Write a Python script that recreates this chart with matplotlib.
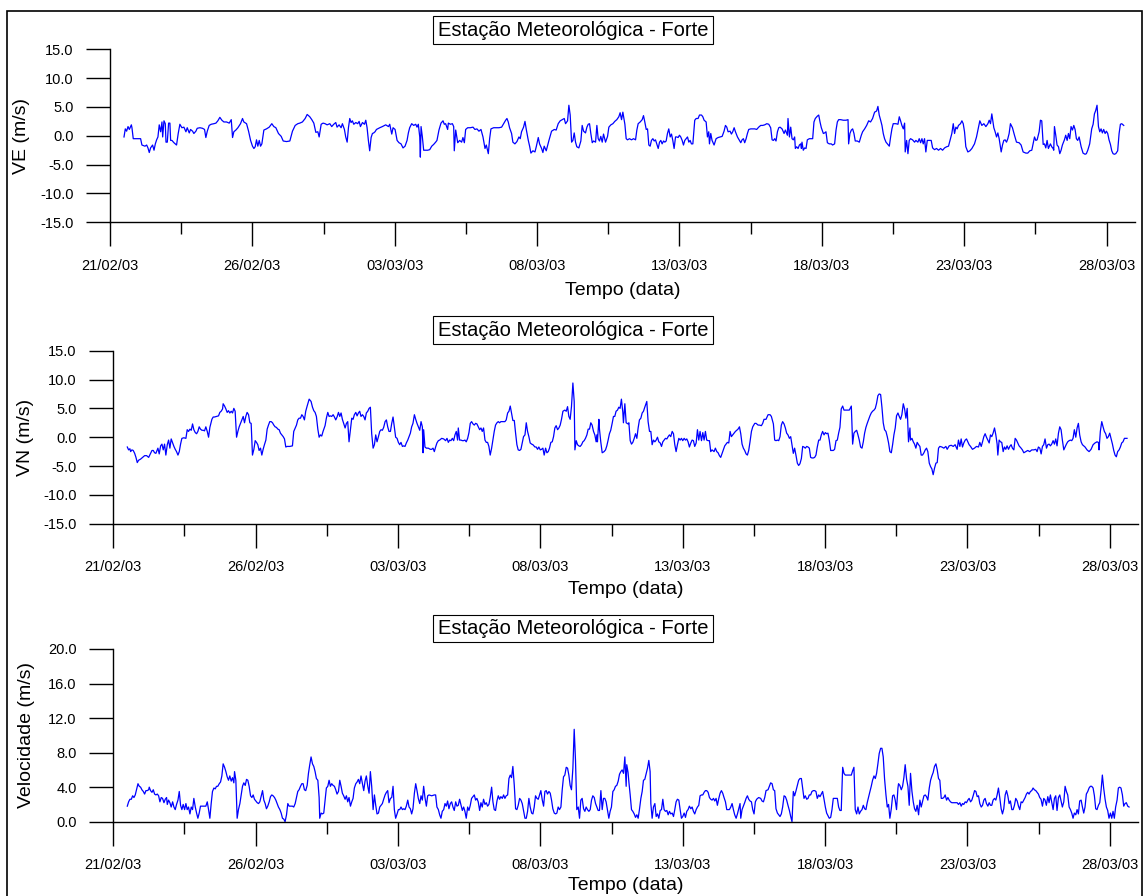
import numpy as np
import pandas as pd
import matplotlib
matplotlib.use("Agg")
import matplotlib.pyplot as plt
import matplotlib.dates as mdates
from matplotlib.ticker import FixedLocator, FormatStrFormatter
from matplotlib.patches import Rectangle

plt.rcParams['font.family'] = ['Liberation Sans', 'DejaVu Sans']

START = pd.Timestamp('2003-02-21')
END = pd.Timestamp('2003-03-29')
TITLE = "Estação Meteorológica - Forte"
XLABEL = "Tempo (data)"

# Hours since 21/02/03 00:00 and the wind components (m/s)
ve_hours = [
    11.8, 12.9, 14.0, 15.2, 16.3, 18.0, 18.5, 19.6, 25.8, 26.9,
    29.5, 30.9, 32.0, 33.1, 34.2, 35.9, 37.1, 38.2, 39.3, 40.4,
    41.5, 42.7, 43.8, 44.4, 45.5, 46.6, 47.2, 48.3, 49.4, 50.5,
    51.1, 52.2, 53.9, 56.1, 57.5, 58.9, 60.6, 62.3, 64.0, 65.1,
    66.8, 67.9, 69.6, 70.7, 72.4, 73.5, 75.8, 78.0, 79.7, 80.8,
    82.0, 83.6, 85.3, 87.6, 89.3, 90.9, 92.6, 94.3, 96.0, 98.2,
    100.5, 102.2, 103.3, 104.4, 106.1, 107.8, 110.0, 111.7, 112.8, 115.1,
    116.8, 118.5, 120.1, 121.3, 122.4, 123.5, 124.6, 125.8, 126.9, 128.0,
    129.7, 131.9, 134.2, 136.4, 138.1, 139.8, 142.0, 144.3, 146.0, 148.8,
    151.6, 153.8, 156.1, 158.3, 160.0, 162.2, 164.5, 166.2, 168.4, 170.1,
    171.8, 173.5, 175.2, 176.3, 178.0, 179.6, 181.3, 183.0, 185.3, 186.9,
    188.6, 190.3, 191.4, 193.1, 194.8, 195.9, 197.6, 198.7, 199.9, 201.0,
    202.1, 203.2, 204.3, 205.5, 207.2, 208.8, 210.0, 211.1, 212.8, 214.5,
    215.6, 216.7, 217.8, 218.9, 220.1, 221.2, 222.3, 223.4, 224.6, 227.4,
    229.6, 232.4, 234.7, 235.8, 237.5, 238.6, 240.3, 242.0, 243.6, 245.3,
    247.0, 248.7, 250.4, 251.5, 252.6, 254.3, 256.0, 257.7, 258.8, 259.9,
    261.1, 261.6, 262.2, 263.3, 264.4, 266.1, 267.8, 269.5, 271.2, 272.8,
    274.5, 275.6, 277.3, 279.0, 280.7, 281.8, 282.9, 284.6, 285.2, 286.9,
    288.6, 289.7, 290.2, 291.4, 293.1, 294.7, 296.4, 297.5, 298.7, 299.8,
    301.5, 303.7, 306.0, 307.6, 309.3, 311.0, 312.7, 314.4, 316.1, 317.2,
    318.9, 320.0, 321.1, 323.4, 325.6, 327.9, 330.1, 331.8, 333.5, 334.6,
    335.7, 336.8, 338.5, 339.6, 341.3, 343.0, 344.7, 345.8, 346.9, 348.6,
    349.8, 350.9, 352.6, 353.7, 354.8, 356.5, 358.2, 359.3, 361.0, 362.1,
    363.8, 364.9, 366.0, 367.7, 370.0, 372.2, 374.5, 376.1, 377.8, 379.5,
    381.2, 382.9, 384.0, 385.7, 386.8, 387.9, 389.1, 390.2, 391.3, 392.4,
    393.5, 395.2, 396.9, 398.0, 399.2, 400.8, 402.0, 403.1, 404.2, 405.3,
    406.5, 407.6, 409.3, 410.4, 411.5, 412.6, 413.7, 414.9, 416.0, 417.7,
    419.4, 420.5, 422.2, 423.9, 425.5, 427.2, 428.9, 430.0, 431.2, 432.3,
    434.0, 435.1,
    436.2, 437.9, 439.6, 441.3, 443.0, 444.1, 445.2, 446.9, 448.6, 449.7,
    450.8, 452.0, 453.1, 454.2, 455.3, 456.4, 457.6, 458.7, 459.8, 460.9,
    462.1, 463.2, 464.3, 465.4, 466.6, 467.7, 468.8, 469.9, 471.0, 472.2,
    473.3, 474.4, 475.5, 476.7, 477.8, 478.9, 480.0, 481.1, 482.3, 483.4,
    484.5, 485.6, 486.8, 487.9, 489.0, 490.1, 491.3, 492.9, 494.1, 495.7,
    496.9, 498.6, 499.7, 500.8, 502.5, 503.6, 504.7, 505.3, 506.4, 507.5,
    509.2, 510.9, 512.6, 514.3, 516.0, 517.6, 518.8, 519.9, 521.0, 522.7,
    523.8, 524.9, 526.1, 527.2, 528.9, 530.6, 531.7, 532.8, 533.9, 535.0,
    536.2, 537.3, 538.4, 540.1, 541.8, 543.5, 545.1, 546.8, 548.5, 550.2,
    551.9, 553.6, 555.3, 556.9, 558.1, 559.2, 560.3, 561.4, 562.6, 563.7,
    564.8, 566.5, 568.2, 569.3, 571.0, 571.5, 572.7, 573.8, 574.9, 576.0,
    577.1, 577.7, 578.8, 580.0, 581.1, 582.2, 582.8, 583.3, 584.4, 585.6,
    586.7, 587.8, 589.5, 591.2, 592.3, 593.4, 594.5, 596.2, 597.4, 598.5,
    599.6, 601.3, 602.4, 603.5, 604.7, 606.3, 608.0, 609.1, 610.8, 612.0,
    613.1, 614.2, 615.9, 618.1, 620.4, 622.1, 622.6, 623.7, 624.9, 626.0,
    627.1, 628.2, 629.9, 631.6, 633.3, 634.4, 636.1, 637.8, 639.5, 641.1,
    642.8, 644.5, 646.2, 647.3, 648.4, 649.6, 650.7, 651.8, 652.9, 654.1,
    655.7, 656.9, 658.0, 659.1, 660.2, 662.5, 664.2, 665.3, 666.4, 667.5,
    668.7, 669.8, 670.3, 671.5, 672.6, 673.7, 674.8, 676.5, 678.2, 679.3,
    681.0, 682.1, 683.3, 684.4, 685.5, 686.6, 687.7, 688.9, 690.6, 692.2,
    693.4, 695.0, 696.7, 698.4, 700.1, 701.8, 703.5, 705.2, 706.8, 708.5,
    709.6, 710.8, 711.9, 713.0, 714.1, 715.2, 716.9, 718.1, 719.2, 720.3,
    721.4, 723.1, 724.8, 726.5, 728.7, 730.4, 732.1, 733.2, 734.9, 736.6,
    738.3, 740.0, 741.1, 742.2, 743.3, 745.0, 746.1, 747.3, 748.4, 749.5,
    751.2, 752.3, 753.4, 754.5, 755.7, 756.8, 757.9, 759.0, 760.7, 762.4,
    764.1, 766.3, 768.0, 769.7, 772.0, 773.6, 775.3, 777.0, 778.1, 779.3,
    780.4, 781.5, 783.2, 784.3, 785.4, 786.6, 787.7, 788.8, 789.9, 791.0,
    792.7, 793.8, 795.0, 795.5, 796.1, 797.2, 798.3, 799.5, 800.6, 801.7,
    802.8, 804.5, 805.6, 806.8, 807.9, 809.0, 810.1, 811.3, 812.4, 813.5,
    814.6, 815.7, 816.9, 818.6, 820.2, 821.9, 823.0, 824.2, 825.8, 827.5,
    828.7, 829.8, 830.9, 832.0, 833.2, 834.3, 835.4, 836.5, 837.6, 838.8,
    839.9, 841.0, 842.1, 843.3, 844.4, 845.5, 846.6, 847.8, 849.4, 850.6,
    851.7, 852.8, 854.5,
]
ve_vals = [
    -0.2, 1.2, 0.8, 1.6, 1.1, 1.9, 1.4, -0.5, -0.5, -1.6,
    -1.8, -1.6, -2.1, -2.9, -2.1, -1.6, -2.5, -1.4, -0.7, -0.2,
    1.9, 0.7, 2.4, -0.2, 2.6, 2.1, -1.1, -1.1, 2.2, 2.2,
    -0.8, -0.8, -1.2, -1.6, 0.4, 2.0, 1.4, 1.5, 0.7, 1.4,
    0.5, 1.1, 0.8, 0.4, 0.8, 1.3, 1.4, 1.3, 1.1, -0.3,
    0.8, 1.8, 2.0, 2.1, 2.2, 2.6, 3.2, 2.7, 2.4, 2.4,
    2.2, 2.8, -0.3, 0.7, 1.0, 1.4, 2.1, 3.0, 2.4, 2.1,
    0.8, -0.8, -1.8, -2.2, -1.9, -0.7, -1.8, -0.8, -1.8, -1.4,
    1.0, 1.2, 1.5, 2.1, 1.6, 1.4, 0.4, -0.1, -0.9, -1.0,
    -0.9, 0.8, 1.8, 2.1, 2.2, 2.4, 3.0, 3.7, 3.3, 2.8,
    2.2, 0.6, 0.7, -0.2, 2.0, 2.2, 2.1, 1.9, 2.1, 1.6,
    2.0, 2.3, 1.5, 1.9, 1.4, 2.1, 1.1, -0.2, -1.1, 1.4,
    3.0, 2.3, 2.6, 2.0, 2.3, 2.1, 2.5, 1.6, 2.3, 2.0,
    2.7, 1.4, -0.8, -2.6, -0.3, 0.4, 0.5, 0.7, 1.1, 1.4,
    1.6, 1.9, 1.6, 2.0, 0.3, 1.4, 1.1, -0.8, -1.2, -1.4,
    -2.1, -1.8, -0.8, 0.5, 1.4, 2.1, 1.8, 2.0, 1.5, 2.0,
    -0.2, -3.7, 1.6, -0.2, -2.5, -2.5, -2.5, -2.4, -1.8, -1.5,
    -1.1, -0.8, 1.0, 2.2, 2.6, 2.0, 2.1, 1.1, 2.2, 2.0,
    2.1, 1.6, -2.6, 1.0, -1.2, -0.8, -1.1, -0.3, -1.2, 1.1,
    1.4, 1.4, 1.5, 1.1, 1.2, 0.8, 1.1, -0.2, -2.2, -1.6,
    -3.1, -0.5, 1.2, 1.4, 1.4, 1.4, 1.5, 2.1, 2.7, 3.0,
    2.4, 1.4, 0.4, -1.1, -1.4, -1.0, -0.2, -0.5, 0.7, 1.5,
    2.5, 1.1, -0.8, -1.8, -3.0, -2.6, -2.8, -1.9, -0.3, -1.4,
    -2.2, -2.9, -1.8, -2.6, -0.8, 0.8, 1.1, 1.0, 2.1, 2.6,
    2.8, 3.0, 2.1, 2.6, 5.3, 3.6, -1.1, -0.8, 0.5, -1.1,
    -1.9, -2.1, -0.9, 1.8, 0.8, 0.5, 1.5, 2.0, 2.1, 0.4,
    -1.2, -0.9, -1.1, 1.8, -0.5, -0.9, -0.1, -1.1, 0.3, -1.1,
    -0.1, 1.5, 1.9, 2.1, 2.5, 2.8, 3.3, 4.0, 2.8, 4.1,
    2.0, -0.5,
    -0.7, -0.5, -0.7, -0.5, -0.7, 1.0, 2.1, 2.4, 2.8, 3.5,
    2.4, 1.1, 1.2, -1.6, -1.8, -0.8, -0.5, -0.9, -0.7, -1.4,
    -2.2, -1.1, -0.8, -1.4, -0.9, -1.1, -0.9, 0.4, 1.2, -0.2,
    0.3, -0.8, -2.2, -0.2, -0.2, -0.3, 0.1, -0.2, -0.8, -1.6,
    -0.8, -0.5, -0.2, -1.1, -0.8, -1.4, -1.4, 2.7, 3.0, 3.0,
    3.6, 3.6, 3.3, 2.7, 2.4, -0.2, 0.7, -1.4, 0.4, -0.8,
    -1.6, -0.5, -0.3, -0.2, -0.1, 0.8, 1.8, 1.5, 0.7, 0.8,
    0.3, 0.7, 1.4, 0.7, -0.2, -0.8, -1.2, -0.7, -0.5, -1.2,
    -0.5, 0.4, 1.1, 1.2, 1.2, 1.2, 1.1, 1.5, 1.8, 1.8,
    1.9, 2.1, 2.0, 1.4, -0.7, -0.8, -0.5, -0.9, 0.7, 1.4,
    1.5, 1.2, 0.4, 1.0, 0.1, 3.0, -0.2, 1.5, -0.5, -0.7,
    -0.2, -2.2, -1.9, -2.2, -1.6, -1.4, -2.2, -1.1, -2.5, -2.1,
    -2.2, -0.7, -0.5, -0.5, -0.5, 2.4, 3.0, 3.4, 3.6, 2.4,
    1.4, 0.4, 0.5, 0.7, -1.2, -1.4, -1.4, -1.6, -1.4, 1.0,
    2.4, 2.8, 2.8, 2.7, 2.7, 2.8, -1.4, 0.4, 1.0, 1.2,
    0.4, -0.9, -0.9, -1.1, 0.1, 0.7, 1.2, 1.8, 2.6, 2.4,
    3.0, 4.1, 4.3, 5.1, 3.6, 2.7, 1.8, 0.4, -0.5, -1.1,
    -1.5, -1.8, -0.2, 1.2, 2.1, 2.1, 2.0, 3.3, 2.6, 1.8,
    1.2, 2.2, -2.8, -0.8, -3.1, -0.8, -0.5, -0.7, -1.1, -0.8,
    -1.1, -0.5, -1.2, -0.5, -1.4, -0.5, -2.8, -0.8, -0.8, -0.8,
    -2.1, -2.4, -2.2, -2.5, -2.2, -2.5, -2.1, -1.9, -1.8, -0.5,
    0.4, 2.1, 0.4, 1.5, 1.2, 1.8, 2.1, 2.6, 2.1, 0.7,
    -1.9, -2.8, -2.6, -2.2, -1.4, -0.2, 1.5, 2.6, 1.8, 2.1,
    1.6, 2.1, 2.7, 2.1, 3.8, 1.4, 0.7, -0.2, 0.5, -0.5,
    -2.8, -1.6, -0.8, -0.7, -1.1, -0.5, 0.4, 2.1, 1.4, 0.1,
    -1.1, -1.2, -1.6, -2.8, -3.0, -3.0, -2.6, -2.5, -1.4, -0.2,
    -0.8, -0.7, 0.7, 2.7, 2.6, -1.5, -1.4, -2.1, -0.8, -2.2,
    -1.4, -1.9, -2.2, -2.5, 1.6, 0.1, -1.6, -1.9, -3.1, -2.5,
    -1.6, -0.7, 0.1, -0.8, 0.4, -0.5, 1.6, 1.0, 1.8, 1.1,
    -0.5, -0.8, -0.2, -1.9, -3.0, -3.2, -3.1, -2.5, -1.4, 1.2,
    2.0, 3.8, 4.4, 5.3, 1.6, 0.7, 1.2, 0.5, 1.1, 0.4,
    0.8, 0.4, -0.7, -1.5, -2.6, -3.1, -3.2, -3.1, -2.6, 0.4,
    2.0, 2.1, 1.8,
]

vn_hours = [
    11.8, 12.9, 14.0, 14.6, 15.7, 16.8, 18.0, 19.1, 20.2, 21.3,
    23.0, 24.7, 26.4, 28.1, 29.8, 31.4, 32.6, 33.7, 34.8, 35.9,
    37.6, 38.7, 39.9, 41.0, 42.1, 43.2, 44.3, 45.5, 46.6, 47.7,
    48.8, 50.0, 51.1, 52.2, 53.3, 54.5, 55.6, 56.7, 57.8, 59.5,
    61.2, 62.3, 63.4, 64.6, 65.7, 66.8, 67.9, 69.1, 70.2, 71.3,
    72.4, 73.5, 74.7, 75.8, 76.9, 78.0, 79.2, 80.3, 81.4, 83.1,
    84.2, 85.3, 87.0, 88.7, 89.8, 90.9, 92.1, 92.6, 93.8, 94.9,
    96.0, 97.1, 98.2, 99.4, 100.5, 101.6, 102.7, 103.9, 105.0, 106.1,
    107.2, 108.4, 109.5, 110.6, 111.7, 112.8, 114.0, 115.1, 116.2, 117.3,
    118.5, 119.6, 120.7, 121.8, 122.9, 124.1, 125.2, 126.3, 127.4, 128.6,
    129.7, 130.8, 131.9, 133.1, 134.2, 135.3, 136.4, 137.5, 138.7, 139.8,
    140.9, 142.0, 143.2, 144.3, 145.4, 146.5, 148.8, 151.0, 152.1, 153.3,
    154.4, 155.5, 156.6, 157.8, 158.9, 160.0, 161.1, 162.2, 163.4, 165.1,
    166.7, 167.9, 169.0, 170.1, 171.2, 172.4, 173.5, 174.6, 175.7, 176.8,
    178.5, 179.6, 180.8, 181.9, 183.0, 184.1, 185.3, 186.4, 187.5, 188.6,
    189.8, 190.9, 192.0, 193.1, 194.2, 195.4, 196.5, 197.6, 198.7, 199.9,
    201.0, 202.1, 203.2, 204.4, 205.5, 206.6, 207.7, 208.8, 210.0, 211.1,
    212.2, 213.3, 214.5, 215.6, 216.7, 217.8, 219.0, 220.1, 221.2, 222.3,
    223.5, 224.6, 225.7, 226.8, 227.9, 229.1, 230.2, 231.3, 232.4, 233.6,
    234.7, 235.8, 236.9, 238.0, 239.2, 240.3, 241.4, 242.5, 243.7, 244.8,
    245.9, 247.0, 248.2, 249.3, 250.4, 251.5, 252.6, 253.8, 254.9, 256.0,
    257.1, 258.3, 259.4, 260.5, 261.1, 261.6, 262.7, 263.9, 265.5, 267.2,
    268.4, 269.5, 270.6, 271.7, 272.8, 274.0, 275.1, 276.8, 278.5, 280.1,
    281.3, 282.4, 283.5, 284.6, 285.8, 286.9, 288.0, 289.1, 290.2, 290.8,
    291.9, 293.1, 294.2, 295.3, 296.4, 297.5, 298.7, 299.8, 300.9, 302.0,
    303.2, 304.3, 305.4, 306.5, 307.6, 308.8, 309.9, 311.0, 312.1, 313.3,
    314.4, 315.5, 316.6, 317.7, 318.9, 320.0, 321.1, 322.2, 323.4, 324.5,
    325.6, 326.7, 328.4, 330.1, 331.2, 332.4, 333.5, 334.6, 335.7, 336.8,
    338.0, 339.1, 340.2, 341.3, 342.5, 343.6, 344.7, 345.8, 347.0, 348.1,
    349.2, 350.3, 351.4, 352.6, 353.7, 355.4, 356.5, 357.6, 358.7, 359.9,
    361.0, 362.1, 363.2, 364.4, 365.5, 366.6, 367.7, 368.8, 370.0, 371.1,
    372.2, 373.3, 374.5, 375.6, 376.7, 377.8, 379.0, 380.6, 381.8, 382.9,
    384.0, 385.1, 386.2, 387.4, 388.5, 389.1, 390.2, 391.3, 392.4, 393.5,
    394.7, 395.8, 396.9, 398.0, 399.2, 400.3, 401.4, 402.5, 403.6, 404.8,
    405.9, 407.0, 407.6, 408.1, 409.3, 409.8, 410.9, 412.1, 413.7, 414.9,
    416.0, 417.1, 418.2, 419.3, 420.5, 421.6, 422.7, 423.8, 425.0, 426.1,
    427.2, 428.3, 429.5, 430.0, 431.2, 432.3, 433.9,
    434.6, 435.7, 436.8, 437.9, 439.1, 440.2, 441.3, 442.4, 443.5, 444.7,
    445.8, 446.9, 448.0, 449.7, 450.8, 452.0, 453.1, 454.2, 455.3, 456.5,
    457.6, 458.7, 459.8, 461.0, 462.1, 463.2, 464.3, 465.4, 466.6, 467.7,
    468.8, 469.9, 471.1, 472.2, 473.3, 474.4, 475.5, 476.7, 477.8, 478.9,
    480.0, 481.2, 482.3, 483.4, 484.5, 485.6, 486.8, 487.9, 489.0, 490.1,
    491.3, 492.4, 493.5, 494.6, 495.8, 496.9, 498.0, 499.1, 500.2, 501.4,
    502.5, 503.6, 504.7, 506.4, 507.5, 508.7, 509.8, 510.9, 512.0, 513.2,
    514.3, 515.4, 516.5, 517.6, 518.8, 519.9, 521.0, 522.1, 523.3, 524.4,
    525.5, 526.6, 527.8, 528.9, 530.0, 531.1, 532.2, 533.4, 534.5, 535.6,
    536.7, 537.9, 539.0, 540.7, 541.8, 543.5, 544.6, 546.3, 547.4, 548.5,
    550.2, 551.9, 553.6, 554.7, 556.4, 557.5, 558.6, 559.8, 560.9, 562.0,
    563.1, 564.2, 565.4, 566.5, 567.6, 568.7, 569.9, 571.0, 572.1, 573.2,
    574.3, 575.5, 576.6, 577.7, 578.8, 580.0, 581.1, 582.2, 583.3, 584.5,
    585.6, 586.7, 587.8, 588.9, 590.1, 591.2, 592.3, 593.4, 594.6, 595.7,
    596.8, 597.9, 599.1, 600.2, 601.3, 602.4, 603.5, 604.7, 605.8, 606.9,
    608.0, 609.2, 610.3, 611.4, 612.5, 613.6, 614.8, 615.9, 617.0, 618.7,
    620.4, 622.1, 623.2, 624.3, 625.4, 626.6, 627.7, 628.8, 629.9, 631.1,
    632.2, 633.3, 634.4, 635.5, 636.7, 637.8, 638.9, 640.0, 641.2, 642.3,
    643.4, 644.5, 645.6, 646.8, 647.9, 649.0, 650.1, 651.3, 652.4, 653.5,
    654.6, 655.8, 656.9, 658.0, 659.1, 660.2, 661.4, 662.5, 663.6, 664.7,
    665.9, 667.0, 668.1, 669.2, 670.3, 671.5, 672.0, 673.2, 674.3, 675.4,
    676.5, 677.6, 678.8, 679.9, 681.0, 682.1, 683.3, 684.4, 685.5, 686.6,
    687.8, 688.9, 690.0, 691.1, 692.2, 693.4, 694.5, 695.6, 696.7, 698.4,
    700.1, 701.8, 702.9, 704.6, 706.3, 708.0, 709.6, 711.3, 712.4, 713.6,
    714.7, 715.8, 716.9, 718.1, 719.2, 720.3, 721.4, 722.6, 724.2, 725.9,
    727.6, 729.3, 730.4, 731.6, 732.7, 733.8, 734.9, 736.0, 737.2, 738.3,
    739.4, 740.5, 741.6, 742.8, 743.9, 745.0, 745.6, 746.7, 747.8, 748.9,
    750.1, 751.2, 752.3, 753.4, 754.6, 755.7, 756.8, 757.9, 759.1, 760.2,
    761.3, 762.4, 763.5, 765.2, 766.3, 767.5, 769.2, 770.8, 772.5, 774.2,
    775.9, 777.6, 778.7, 779.8, 781.0, 782.1, 783.2, 784.3, 785.4, 786.6,
    787.7, 788.8, 789.9, 791.0, 792.2, 793.3, 794.4, 795.5, 796.7, 797.8,
    798.9, 800.0, 801.2, 802.3, 803.4, 804.5, 805.7, 806.8, 807.9, 809.0,
    810.1, 811.3, 812.4, 813.5, 814.6, 815.8, 816.9, 818.0, 819.1, 820.8,
    822.5, 824.2, 825.9, 827.5, 829.2, 830.4, 830.9, 832.0, 833.2, 834.3,
    835.4, 836.5, 837.6, 838.8, 839.9, 841.0, 842.2, 843.3, 844.4, 845.5,
    846.6, 847.8, 848.9, 850.0, 851.1, 852.3, 853.4, 854.5,
]
vn_vals = [
    -1.7, -2.2, -2.0, -2.5, -2.2, -2.3, -2.8, -3.5, -4.4, -4.0,
    -3.8, -3.5, -3.2, -3.2, -3.5, -2.8, -2.3, -2.3, -2.7, -2.8,
    -1.9, -2.9, -1.5, -1.2, -2.2, -1.2, -3.1, -1.3, -0.5, -1.9,
    -0.3, -1.0, -1.6, -2.1, -2.5, -3.1, -2.5, -1.2, -0.2, -0.1,
    -0.2, 1.3, 1.0, 1.4, 1.2, 2.3, 1.3, 0.8, 0.6, 1.0,
    1.8, 1.4, 1.2, 1.2, 1.1, 1.8, 1.0, 0.0, 1.7, 3.1,
    3.5, 3.5, 3.6, 3.7, 4.3, 4.5, 4.9, 5.8, 5.4, 4.9,
    4.3, 4.6, 4.2, 4.5, 4.2, 5.0, 4.5, 0.0, 1.0, 1.8,
    2.4, 3.1, 3.6, 2.5, 3.6, 4.3, 3.9, 2.5, 2.4, -3.1,
    -2.1, -0.6, -0.9, -1.3, -2.3, -1.9, -3.1, -2.1, -1.3, -0.5,
    1.4, 2.1, 2.7, 2.7, 2.5, 2.1, 1.8, 1.7, 1.4, 1.3,
    0.7, 0.4, 0.1, -0.3, -1.7, -1.6, -1.6, -1.5, 1.0, 1.6,
    2.1, 3.0, 3.3, 3.3, 3.9, 3.6, 3.0, 4.5, 5.4, 6.6,
    6.2, 5.2, 4.6, 4.3, 3.6, 1.4, 0.0, 0.4, 0.2, 1.0,
    2.0, 3.3, 4.3, 3.6, 3.7, 3.6, 3.9, 3.5, 3.0, 3.5,
    4.3, 3.6, 4.2, 3.1, 2.4, 1.6, 2.4, 2.7, -0.8, 1.3,
    3.3, 3.1, 3.9, 4.3, 3.7, 4.2, 4.5, 3.6, 3.9, 3.6,
    3.0, 4.2, 4.5, 5.0, 5.2, 0.6, -1.9, -1.3, 0.4, -0.8,
    0.1, 1.0, 1.3, 1.2, 1.7, 2.7, 3.0, 1.8, 1.0, 1.0,
    2.4, 3.5, 1.8, 0.0, -0.2, -0.9, -1.3, -0.9, -1.6, -1.5,
    -1.6, -1.0, -0.5, 0.1, 0.7, 1.8, 2.4, 3.9, 3.1, 2.4,
    1.8, 1.2, 2.7, 1.8, -2.7, 1.3, -1.7, -1.9, -1.9, -2.1,
    -2.1, -1.9, -2.5, -1.7, -1.0, -0.6, -0.5, -0.2, -0.3, -0.6,
    -0.2, -0.9, -0.5, -0.6, -0.2, -0.6, 0.4, 1.0, -0.5, 1.6,
    -0.5, -0.5, -0.6, -0.6, -0.5, -0.8, -0.2, 0.8, 2.4, 2.7,
    2.3, 2.1, 2.4, 2.3, 1.8, 1.3, 1.6, 1.0, 1.6, -0.5,
    -0.9, -0.9, -1.6, -3.1, -1.9, -0.5, 1.0, 2.1, 2.5, 2.7,
    2.5, 2.7, 2.7, 2.7, 3.0, 4.2, 4.5, 5.4, 4.2, 2.9,
    2.9, 0.7, -1.3, -2.2, -2.3, -2.1, -1.0, 0.1, 0.4, 2.5,
    1.0, 0.1, -1.0, -1.2, -1.3, -1.7, -1.7, -2.1, -1.7, -2.2,
    -2.1, -1.9, -3.1, -1.9, -2.7, -2.5, -1.9, -0.9, -0.8, 0.1,
    1.6, 2.0, 1.3, 1.6, 2.1, 3.1, 4.5, 4.7, 4.5, 5.3,
    3.6, 3.1, 5.3, 9.4, 6.2, -2.2, -0.6, -1.3, -1.5, -1.6,
    -1.3, -0.8, -0.6, -0.2, 0.4, 1.4, 1.4, 2.5, 2.1, 1.0,
    0.4, -0.8, 0.4, -0.8, 3.1, 1.4, -0.8, -2.7, -2.5, -2.2,
    -1.5, -0.5, 0.6, 1.2, 2.4, 3.6, 3.6, 4.5, 4.7, 5.2,
    5.0, 6.6, 4.3, 2.5, 5.8, 2.5, 2.3,
    2.5, -0.6, -1.2, -0.9, -0.2, 0.6, -0.2, 1.6, 3.0, 3.3,
    4.2, 4.5, 5.2, 6.2, 2.7, 1.0, 1.0, -1.3, -0.5, -0.8,
    -0.5, 0.0, -0.8, -1.0, -1.6, -0.8, -0.5, -0.2, -0.3, 0.1,
    0.4, 0.1, 1.0, 0.6, -1.3, -2.5, -1.3, -0.2, -0.5, -0.2,
    -0.6, -0.2, -0.5, -0.3, -0.8, -1.7, -1.0, -0.5, -0.6, -1.6,
    -1.0, 1.3, -0.5, 1.0, -0.6, 0.8, -0.5, 1.0, -0.5, -0.6,
    -0.6, -2.5, -2.2, -2.5, -1.9, -2.5, -2.7, -3.2, -3.5, -2.8,
    -2.2, -1.5, -1.2, -0.9, -1.0, 1.0, 0.1, 0.4, 0.7, 1.0,
    1.2, 1.4, 1.8, 0.6, -1.2, -1.9, -2.3, -2.9, -3.1, -2.3,
    -0.8, 1.0, 1.8, 2.4, 2.4, 2.1, 2.1, 2.0, 2.4, 3.1,
    3.1, 3.9, 3.9, 3.6, 2.3, -0.5, -0.6, -0.5, -0.6, 0.1,
    2.1, 2.7, 2.3, 1.6, 0.7, 0.4, -0.2, 0.1, -1.3, -2.8,
    -1.9, -3.2, -4.5, -4.9, -4.6, -3.7, -1.6, -1.7, -1.9, -1.6,
    -1.7, -1.9, -3.5, -3.6, -3.6, -3.5, -3.1, -1.7, -0.5, -0.5,
    0.4, 1.0, 0.4, 0.8, 0.6, 0.7, -0.5, -2.3, -2.3, -2.3,
    -2.1, -0.6, -0.5, 0.7, 1.7, 4.9, 5.4, 4.7, 4.7, 4.7,
    4.7, 5.4, -1.2, 0.7, 1.0, 1.2, 0.4, -0.5, -1.7, -1.9,
    -0.8, 0.7, 1.7, 2.4, 3.1, 3.7, 4.2, 4.5, 4.7, 5.0,
    5.9, 7.2, 7.5, 7.4, 5.2, 2.5, 1.3, 1.0, 0.1, -1.0,
    -2.5, -2.7, -1.3, 0.4, 1.6, 3.7, 4.2, 3.6, 3.1, 3.9,
    5.8, 4.9, 3.3, 5.0, -0.8, 1.6, -0.5, -0.2, -0.8, -1.2,
    -1.9, -0.9, -1.3, -1.6, -3.1, -3.1, -2.7, -2.2, -1.9, -2.5,
    -4.5, -5.1, -5.5, -6.5, -5.4, -4.5, -4.4, -1.9, -1.6, -1.7,
    -1.9, -1.6, -2.1, -1.5, -1.4, -1.6, -1.3, -2.1, -0.5, -1.6,
    -0.3, -1.7, -1.0, -0.5, -0.3, -0.8, -1.3, -1.6, -2.1, -1.9,
    -1.6, -1.7, -0.9, -1.6, -0.8, 0.1, 0.6, 0.0, -0.5, -1.0,
    0.4, 0.1, 0.7, 1.6, 0.4, -1.2, -3.1, -0.5, -0.8, -0.9,
    -2.5, -1.7, -2.1, -1.5, -2.1, -1.6, -1.3, -1.9, -2.2, -0.2,
    -0.5, -1.0, -1.5, -1.9, -2.2, -2.7, -2.5, -2.3, -2.5, -2.2,
    -2.2, -2.1, -2.5, -1.7, -1.9, -2.9, -1.6, -1.3, -0.3, -1.9,
    -1.3, -1.2, -1.5, -1.2, -0.6, -1.2, -0.3, -1.5, 0.7, 1.8,
    1.3, -0.5, -2.2, -1.7, -1.2, -0.8, -0.6, -0.5, -0.6, -0.2,
    1.3, 0.0, 1.6, 2.4, 0.4, -0.8, -1.3, -1.5, -1.7, -2.2,
    -2.5, -2.1, -1.3, -1.0, -0.8, -0.9, -2.2, 1.0, 2.7, 1.8,
    1.0, 0.6, -0.2, 0.1, 0.7, -0.2, -1.2, -2.3, -3.1, -3.4,
    -2.5, -2.2, -1.7, -1.0, -0.8, -0.2, -0.2, -0.2,
]

vel_hours = [
    11.8, 12.9, 14.0, 15.2, 16.3, 17.4, 18.5, 19.6, 20.8, 21.9,
    23.0, 24.1, 25.3, 26.4, 27.5, 28.6, 29.8, 30.3, 31.4, 32.6,
    33.7, 34.8, 35.9, 37.1, 38.2, 39.3, 40.4, 41.5, 42.7, 43.8,
    44.9, 45.5, 46.6, 47.7, 48.8, 50.0, 51.1, 52.2, 53.3, 54.5,
    55.6, 56.7, 57.8, 58.9, 60.1, 61.2, 62.3, 63.4, 64.6, 65.7,
    66.8, 67.9, 69.1, 70.2, 71.3, 72.4, 73.5, 74.7, 76.4, 78.0,
    79.2, 80.3, 81.4, 82.5, 83.6, 84.8, 85.9, 87.0, 88.1, 89.3,
    90.4, 91.5, 92.6, 93.8, 94.9, 96.0, 97.1, 98.2, 99.4, 100.5,
    101.6, 102.2, 103.3, 104.4, 105.5, 106.7, 107.8, 108.9, 110.0, 111.2,
    112.3, 113.4, 114.5, 115.7, 116.8, 117.9, 119.0, 120.1, 121.3, 122.4,
    123.5, 124.6, 125.8, 126.9, 128.0, 129.1, 130.2, 131.4, 132.5, 133.6,
    134.7, 135.9, 137.0, 138.1, 139.2, 140.4, 141.5, 142.6, 143.7, 144.8,
    146.0, 147.1, 148.2, 149.3, 151.0, 152.1, 153.3, 154.4, 155.5, 156.6,
    157.8, 158.9, 160.0, 161.1, 162.2, 163.4, 164.5, 165.6, 166.7, 167.9,
    169.0, 170.1, 171.2, 172.4, 173.5, 174.0, 175.2, 176.3, 177.4, 178.5,
    179.6, 180.8, 181.9, 183.0, 184.1, 185.3, 186.4, 187.5, 188.6, 189.8,
    190.9, 192.0, 193.1, 194.2, 195.4, 196.5, 197.6, 198.7, 199.9, 201.0,
    202.1, 203.2, 204.4, 205.5, 206.6, 207.7, 208.8, 210.0, 211.1, 212.2,
    213.3, 214.5, 215.6, 216.7, 217.8, 219.0, 220.1, 221.2, 222.3, 223.5,
    224.6, 225.7, 226.8, 227.9, 229.1, 230.2, 231.3, 232.4, 233.6, 234.7,
    235.8, 236.9, 238.0, 239.2, 240.3, 241.4, 242.5, 243.7, 244.8, 245.9,
    247.0, 248.2, 249.3, 250.4, 251.5, 252.6, 253.8, 254.9, 256.0, 257.1,
    258.3, 259.4, 260.5, 261.6, 262.7, 263.9, 265.0, 266.1, 268.4, 270.6,
    271.7, 272.8, 274.0, 275.1, 276.2, 277.3, 278.5, 279.6, 280.7, 281.8,
    282.9, 284.1, 285.2, 286.3, 287.4, 288.6, 289.7, 290.8, 291.9, 293.1,
    294.2, 295.3, 296.4, 297.5, 298.7, 299.8, 300.9, 302.0, 303.2, 304.3,
    305.4, 306.5, 307.6, 308.8, 309.9, 311.0, 312.1, 313.3, 314.4, 315.5,
    316.6, 317.7, 318.9, 320.0, 321.1, 322.2, 323.4, 324.5, 325.6, 326.7,
    327.9, 329.0, 330.1, 331.2, 332.4, 333.5, 334.6, 335.7, 336.8, 338.0,
    339.1, 340.2, 341.3, 342.5, 343.6, 344.7, 345.8, 347.0, 348.1, 349.2,
    350.3, 351.4, 352.6, 353.7, 354.8, 355.9, 357.1, 358.2, 359.3, 360.4,
    361.6, 362.7, 363.8, 364.9, 366.0, 367.2, 368.3, 369.4, 370.5, 371.7,
    372.8, 373.9, 375.0, 376.1, 377.3, 378.4, 379.5, 380.6, 381.8, 382.9,
    384.0, 385.1, 386.2, 387.4, 388.5, 389.6, 390.7, 391.9, 393.0, 394.1,
    395.2, 396.4, 397.5, 398.6, 399.7, 400.9, 402.0, 403.1, 404.2, 405.4,
    406.5, 407.6, 408.7, 409.8, 411.0, 412.1, 413.2, 414.3, 415.4, 416.6,
    417.7, 418.8, 419.9, 421.1, 422.2, 423.3, 424.4, 425.6, 426.7, 427.8,
    428.9, 430.1, 431.2, 432.3, 432.8, 433.9,
    434.6, 435.7, 436.8, 437.9, 439.1, 440.2, 441.3, 442.4, 443.5, 444.7,
    445.8, 446.9, 448.0, 449.2, 450.3, 451.4, 452.5, 453.1, 454.2, 455.3,
    456.5, 457.6, 458.7, 459.8, 461.0, 462.1, 463.2, 464.3, 465.4, 466.6,
    467.7, 468.8, 469.9, 471.1, 472.2, 473.3, 474.4, 475.5, 476.7, 477.8,
    478.9, 480.0, 481.2, 482.3, 483.4, 484.5, 485.6, 486.8, 487.9, 489.0,
    490.1, 491.3, 492.4, 493.5, 494.6, 495.8, 496.9, 498.0, 499.1, 500.2,
    501.4, 502.5, 503.6, 504.7, 505.9, 507.0, 508.1, 509.2, 510.4, 511.5,
    512.6, 513.7, 514.8, 516.0, 517.1, 518.2, 519.3, 520.5, 521.6, 522.7,
    523.8, 525.0, 526.1, 527.2, 528.3, 528.9, 530.0, 531.1, 532.2, 533.4,
    534.5, 535.6, 536.7, 537.9, 539.0, 540.1, 541.2, 542.3, 544.0, 545.7,
    546.8, 548.0, 549.1, 550.2, 551.9, 553.0, 554.1, 555.3, 556.4, 557.5,
    558.6, 559.8, 560.9, 562.0, 563.1, 564.2, 565.4, 566.5, 567.6, 568.7,
    569.9, 571.0, 572.1, 573.2, 574.3, 575.5, 576.6, 577.7, 578.8, 580.0,
    581.1, 582.2, 583.3, 584.5, 585.6, 586.7, 587.8, 588.9, 590.1, 591.2,
    592.3, 593.4, 594.6, 595.7, 596.8, 597.9, 599.1, 600.2, 601.3, 602.4,
    603.5, 604.7, 605.8, 606.9, 608.0, 609.2, 610.3, 611.4, 612.5, 613.6,
    614.8, 615.9, 617.0, 618.7, 620.4, 622.1, 623.2, 624.3, 625.4, 626.6,
    627.7, 628.8, 629.9, 631.1, 632.2, 633.3, 634.4, 635.5, 636.7, 637.8,
    638.9, 640.0, 641.2, 642.3, 643.4, 644.5, 645.6, 646.8, 647.9, 649.0,
    650.1, 651.3, 652.4, 653.5, 654.6, 655.8, 656.9, 658.0, 659.1, 660.2,
    661.4, 661.9, 663.0, 664.2, 665.3, 666.4, 667.5, 668.7, 669.8, 670.9,
    672.0, 673.2, 674.3, 675.4, 676.5, 677.6, 678.8, 679.9, 681.0, 682.1,
    683.3, 684.4, 685.5, 686.6, 687.8, 688.9, 690.0, 691.1, 692.2, 693.4,
    694.5, 695.6, 696.7, 697.9, 699.0, 700.1, 701.2, 702.4, 703.5, 704.6,
    705.7, 706.8, 708.0, 709.1, 710.2, 711.3, 712.4, 713.6, 714.7, 715.8,
    716.9, 718.1, 719.2, 720.3, 721.4, 722.6, 723.7, 724.8, 726.0, 727.1,
    728.2, 729.3, 730.4, 731.6, 732.7, 733.8, 734.9, 736.0, 737.2, 738.3,
    739.4, 740.5, 741.6, 742.8, 743.9, 745.0, 746.1, 747.3, 748.4, 749.5,
    750.6, 751.8, 752.9, 754.0, 755.1, 756.2, 757.4, 758.5, 759.6, 760.7,
    761.9, 763.0, 764.1, 765.2, 766.3, 767.5, 768.6, 769.7, 770.8, 771.9,
    773.1, 774.2, 775.3, 776.4, 777.6, 778.7, 779.8, 780.9, 782.0, 783.2,
    784.3, 785.4, 786.5, 787.7, 788.8, 789.9, 791.0, 792.2, 793.3, 794.4,
    795.5, 796.7, 797.8, 798.9, 800.0, 801.2, 802.3, 803.4, 804.5, 805.7,
    806.8, 807.9, 809.0, 810.1, 811.3, 812.4, 813.5, 814.6, 815.8, 816.9,
    818.0, 819.1, 820.2, 821.4, 822.5, 823.6, 824.7, 825.9, 827.0, 828.1,
    829.2, 830.4, 831.5, 832.6, 833.7, 834.8, 836.0, 837.1, 838.2, 839.3,
    840.5, 841.6, 842.7, 843.8, 844.9, 846.1, 847.2, 848.3, 849.4, 850.6,
    851.7, 852.8, 853.9, 855.1, 856.2,
]
vel_vals = [
    1.8, 2.3, 2.6, 2.6, 3.0, 2.8, 3.1, 3.7, 4.4, 4.1,
    4.0, 3.7, 3.5, 3.2, 3.6, 3.6, 3.7, 4.0, 3.6, 3.4,
    3.7, 3.2, 3.1, 3.2, 3.0, 2.3, 2.8, 2.7, 2.2, 2.6,
    2.8, 2.0, 2.5, 2.2, 1.7, 2.3, 1.7, 1.4, 2.0, 2.5,
    3.5, 1.9, 1.4, 2.0, 1.4, 2.1, 1.4, 1.7, 0.9, 1.7,
    1.4, 2.7, 1.7, 1.0, 0.4, 1.0, 1.8, 1.8, 1.8, 1.8,
    2.3, 1.4, 0.4, 2.1, 3.5, 3.9, 3.8, 4.1, 4.1, 4.4,
    4.6, 5.3, 6.7, 6.3, 5.8, 5.2, 4.8, 5.3, 4.7, 5.1,
    4.5, 5.8, 4.8, 0.4, 1.4, 2.1, 3.1, 4.1, 4.5, 4.2,
    4.9, 4.8, 4.1, 3.0, 2.8, 3.1, 2.6, 2.4, 2.2, 2.1,
    2.3, 2.9, 3.6, 2.5, 2.1, 1.5, 1.8, 2.3, 2.9, 3.1,
    3.0, 2.8, 2.5, 2.1, 1.7, 1.4, 1.0, 0.4, 0.3, 0.0,
    0.8, 2.1, 1.8, 1.8, 1.8, 1.7, 2.1, 2.8, 3.5, 3.7,
    4.1, 4.4, 4.4, 3.7, 3.6, 4.2, 5.6, 6.6, 7.5, 6.7,
    6.4, 5.8, 5.0, 4.8, 2.8, 0.4, 1.0, 0.9, 1.0, 2.5,
    3.9, 4.1, 4.8, 4.1, 4.4, 4.2, 4.1, 3.7, 3.2, 3.5,
    4.8, 4.1, 3.3, 3.0, 2.6, 3.0, 2.3, 2.8, 1.8, 2.3,
    2.7, 3.9, 4.4, 4.6, 4.9, 4.4, 5.3, 4.4, 3.6, 4.7,
    5.3, 4.1, 3.3, 5.8, 4.1, 1.4, 3.1, 1.9, 0.9, 1.0,
    1.7, 1.9, 2.1, 2.6, 3.1, 3.4, 3.6, 2.2, 2.7, 2.8,
    4.1, 1.4, 0.4, 0.9, 1.4, 1.4, 1.7, 1.4, 1.5, 1.4,
    1.8, 2.5, 1.7, 1.5, 0.9, 1.5, 3.3, 4.4, 3.6, 2.7,
    2.1, 3.0, 2.5, 4.1, 2.8, 1.8, 3.0, 3.1, 3.0, 3.1,
    3.1, 1.7, 1.4, 0.8, 0.4, 1.2, 1.4, 2.1, 1.8, 2.4,
    1.5, 2.1, 2.3, 1.7, 1.3, 2.3, 1.8, 1.9, 2.6, 1.9,
    1.3, 1.7, 1.2, 0.4, 1.7, 1.3, 1.9, 2.7, 2.9, 3.1,
    2.5, 2.7, 2.3, 1.3, 2.2, 1.7, 2.6, 2.0, 2.2, 1.8,
    2.0, 2.8, 4.0, 2.3, 1.4, 1.3, 2.4, 3.0, 2.6, 2.9,
    2.7, 3.1, 2.7, 3.0, 3.1, 5.0, 5.4, 5.1, 6.4, 4.2,
    1.5, 1.4, 1.9, 2.7, 2.5, 2.1, 1.3, 0.4, 0.4, 1.2,
    2.7, 1.7, 1.0, 0.9, 1.7, 3.0, 2.7, 2.6, 3.1, 3.6,
    2.5, 1.8, 3.5, 3.6, 3.2, 3.5, 3.3, 2.5, 1.5, 1.0,
    0.9, 1.0, 1.7, 1.4, 1.7, 3.7, 5.2, 5.4, 6.3, 6.2,
    5.4, 4.2, 3.7, 6.2, 10.7, 7.1, 1.4, 1.7, 0.4, 2.5,
    2.7, 1.5, 1.2, 1.7, 1.4, 1.2, 1.4, 2.5, 3.0, 2.8,
    2.1, 1.7, 1.3, 1.3, 3.6, 1.4, 2.7, 2.7, 2.3, 1.3,
    0.4, 1.2, 1.7, 3.5, 3.7, 4.1, 4.2, 4.7, 5.5, 5.8,
    6.0, 5.6, 7.5, 4.1, 6.6, 5.7,
    4.6, 3.1, 1.4, 1.2, 0.9, 0.5, 0.8, 0.4, 1.4, 2.7,
    3.5, 4.8, 4.9, 5.6, 6.2, 7.1, 5.8, 2.1, 0.4, 1.7,
    2.1, 0.6, 0.9, 0.4, 1.3, 1.4, 2.6, 1.4, 1.2, 1.3,
    0.8, 1.2, 0.9, 1.0, 0.6, 1.4, 2.3, 2.6, 2.5, 1.4,
    0.4, 0.6, 1.0, 0.5, 1.2, 1.4, 1.8, 1.5, 1.7, 1.2,
    0.9, 1.4, 1.7, 1.9, 3.0, 3.1, 3.1, 3.4, 3.6, 3.6,
    3.4, 2.8, 2.6, 2.5, 2.7, 2.4, 2.7, 1.9, 2.7, 3.3,
    3.6, 3.3, 2.8, 2.3, 1.4, 1.4, 1.4, 1.7, 2.1, 1.4,
    0.8, 0.4, 0.9, 1.5, 2.1, 0.4, 1.4, 1.8, 2.2, 2.7,
    3.0, 2.6, 2.4, 2.3, 1.4, 0.9, 2.3, 2.6, 2.8, 2.7,
    2.4, 2.3, 2.8, 3.6, 3.7, 4.1, 4.5, 4.4, 3.7, 3.6,
    1.5, 1.0, 0.8, 0.6, 0.9, 1.7, 3.0, 2.9, 2.5, 1.9,
    1.3, 0.6, 0.0, 3.5, 3.0, 3.6, 4.2, 4.8, 5.0, 5.0,
    3.8, 2.7, 3.0, 2.6, 2.7, 3.1, 3.1, 3.5, 3.6, 3.6,
    3.5, 2.7, 3.1, 2.9, 3.2, 3.5, 2.6, 1.7, 1.0, 0.7,
    0.4, 0.5, 1.4, 2.7, 2.7, 2.7, 2.7, 1.7, 1.3, 1.3,
    6.3, 5.6, 5.4, 5.4, 5.4, 5.4, 5.9, 6.3, 1.4, 0.9,
    1.7, 0.9, 1.2, 1.4, 1.9, 1.5, 1.4, 2.2, 2.9, 3.5,
    4.1, 4.8, 5.3, 5.0, 5.6, 6.7, 7.9, 8.5, 8.5, 7.5,
    5.0, 3.1, 1.7, 2.0, 0.4, 1.5, 3.0, 3.1, 2.5, 1.4,
    3.9, 4.4, 4.2, 3.7, 4.1, 5.1, 6.6, 4.9, 4.1, 1.9,
    5.6, 3.5, 2.3, 1.5, 1.2, 1.9, 0.8, 2.5, 1.7, 2.3,
    3.0, 3.1, 2.9, 2.5, 3.9, 4.8, 5.3, 5.7, 6.4, 6.7,
    6.0, 5.0, 4.8, 2.7, 2.7, 2.8, 3.1, 2.5, 2.8, 2.5,
    2.3, 2.2, 2.2, 2.2, 2.2, 2.2, 2.0, 2.2, 1.8, 2.1,
    2.0, 2.3, 2.2, 2.5, 2.7, 2.3, 2.5, 3.0, 3.6, 3.5,
    2.9, 3.0, 2.1, 1.7, 1.9, 2.5, 2.7, 2.1, 1.8, 2.2,
    1.9, 1.9, 2.5, 2.7, 2.5, 3.1, 3.9, 2.7, 1.5, 0.9,
    1.5, 3.1, 3.6, 3.0, 2.1, 2.4, 1.4, 1.4, 1.9, 2.7,
    2.4, 1.8, 1.4, 2.3, 2.2, 2.5, 2.8, 3.2, 3.4, 3.2,
    3.5, 3.6, 3.9, 3.7, 3.6, 3.4, 3.2, 2.8, 2.6, 1.8,
    2.7, 2.5, 1.9, 2.9, 2.2, 3.1, 2.3, 1.4, 2.7, 3.0,
    1.3, 2.8, 3.1, 2.4, 1.7, 2.3, 4.1, 3.5, 3.1, 1.7,
    1.4, 1.0, 0.4, 1.0, 0.8, 1.4, 0.9, 2.4, 2.5, 1.7,
    1.0, 1.7, 3.2, 3.5, 3.9, 4.1, 4.1, 3.9, 3.0, 1.5,
    1.4, 1.9, 2.2, 3.6, 5.4, 3.9, 2.6, 1.7, 1.3, 0.4,
    1.0, 0.4, 1.2, 0.4, 1.7, 2.5, 3.9, 4.0, 3.9, 3.1,
    1.8, 2.1, 2.2, 1.8, 1.7,
]

comp_ticks = [-15, -10, -5, 0, 5, 10, 15]
speed_ticks = [0, 4, 8, 12, 16, 20]

FIG_W, FIG_H = 1146, 896


def px_x(x):
    return x / FIG_W


def px_y(y):
    return 1 - y / FIG_H


def to_num(hours):
    return mdates.date2num(START) + np.asarray(hours) / 24.0


major_days = pd.date_range(START, '2003-03-28', freq='5D')
major_locs = mdates.date2num(major_days)
minor_locs = major_locs[:-1] + 2.5

fig = plt.figure(figsize=(FIG_W / 100, FIG_H / 100), dpi=100)

# (left, top, bottom) of each axes in pixels, then series and labels
panels = [
    (110.0, 49.3, 222.3, ve_hours, ve_vals, 'VE (m/s)', comp_ticks, 30, 22, 290),
    (113.3, 350.7, 523.7, vn_hours, vn_vals, 'VN (m/s)', comp_ticks, 330, 25, 589),
    (113.3, 649.0, 821.7, vel_hours, vel_vals, 'Velocidade (m/s)', speed_ticks, 628.5, 27, 885),
]

for left, top, bottom, hours, vals, ylabel, yticks, title_y, ylab_x, xlab_y in panels:
    width = 1025.0
    ax = fig.add_axes([px_x(left), px_y(bottom), width / FIG_W, (bottom - top) / FIG_H])
    ax.plot(to_num(hours), vals, color='#0000ff', lw=0.9)

    ax.set_xlim(mdates.date2num(START), mdates.date2num(END))
    ax.set_ylim(yticks[0], yticks[-1])

    for side in ('top', 'right'):
        ax.spines[side].set_visible(False)
    for side in ('left', 'bottom'):
        ax.spines[side].set_linewidth(1.0)
        ax.spines[side].set_color('black')

    ax.yaxis.set_major_locator(FixedLocator(yticks))
    ax.yaxis.set_major_formatter(FormatStrFormatter('%.1f'))
    ax.xaxis.set_major_locator(FixedLocator(major_locs))
    ax.xaxis.set_minor_locator(FixedLocator(minor_locs))
    ax.xaxis.set_major_formatter(mdates.DateFormatter('%d/%m/%y'))

    ax.tick_params(axis='y', direction='out', length=17.3, width=1.0, pad=9, labelsize=10.5)
    ax.tick_params(axis='x', which='major', direction='out', length=17.3, width=1.0,
                   pad=9, labelsize=10.5)
    ax.tick_params(axis='x', which='minor', direction='out', length=8.6, width=1.0)

    ax.set_ylabel(ylabel, fontsize=14, va='center')
    ax.yaxis.set_label_coords((ylab_x - left) / width, 0.5)
    ax.set_xlabel(XLABEL, fontsize=14, va='center')
    ax.xaxis.set_label_coords(0.5, -(xlab_y - bottom) / (bottom - top))

    fig.text(0.5, px_y(title_y), TITLE, ha='center', va='center', fontsize=14.5,
             bbox=dict(boxstyle='square,pad=0.22', facecolor='white',
                       edgecolor='black', linewidth=0.8))

# Outer frame around the whole figure
fig.patches.append(Rectangle((px_x(7), -0.02), px_x(1142) - px_x(7), px_y(11) + 0.02,
                             transform=fig.transFigure, fill=False,
                             edgecolor='black', linewidth=1.2))

fig.savefig('out.png', dpi=100)
